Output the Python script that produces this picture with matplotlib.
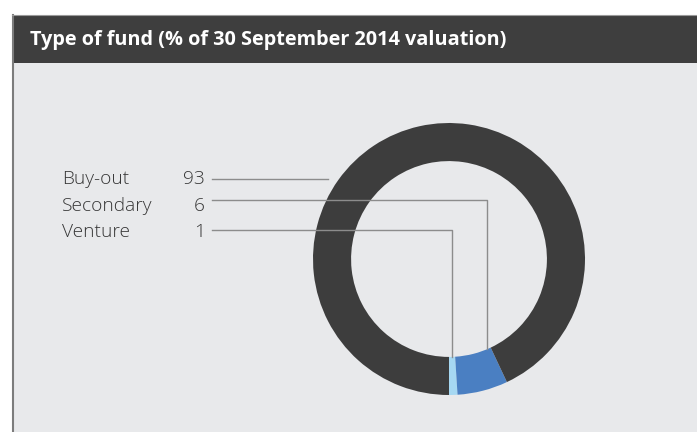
import numpy as np
import matplotlib
matplotlib.use("Agg")
import matplotlib.pyplot as plt
from matplotlib.patches import Rectangle

# --------------------------------------------------------------------------------
# DATA

title = "Type of fund (% of 30 September 2014 valuation)"
funds = ["Buy-out", "Secondary", "Venture"]
shares = [93, 6, 1]
colours = ["#3d3d3d", "#4a7fc2", "#a6d8f2"]

# --------------------------------------------------------------------------------
# LAYOUT (pixels)

W, H = 697, 432
cx, cy, R = 449, 259, 136     # donut centre and outer radius
ring = 0.28                   # ring width as fraction of radius
label_x, value_x, line_x0 = 62, 205, 212
row_y = [179, 206, 232]       # text centres
line_dy = [0, -6, -2]         # leader offset from text centre
anchor_frac = [None, 0.88, 0.5]  # where on the wedge the leader lands

plt.rcParams['font.family'] = ['Open Sans', 'DejaVu Sans']

fig = plt.figure(figsize=(W / 100, H / 100), dpi=100, facecolor="white")

bg = fig.add_axes([0, 0, 1, 1])
bg.set_xlim(0, W)
bg.set_ylim(H, 0)
bg.axis("off")
bg.add_patch(Rectangle((12, 63), W - 12, H - 63, color="#e8e9eb", lw=0))
bg.add_patch(Rectangle((12, 15), W - 12, 48, color="#3e3e3e", lw=0))
bg.plot([12.5, 12.5], [15, H], color="#7c7c7c", lw=1.5)
bg.plot([12, W], [14.8, 14.8], color="#9a9a9a", lw=0.8)
bg.text(30, 40, title, color="white", fontsize=14.3, fontweight="bold", va="center", ha="left")

# donut
pie_ax = fig.add_axes([(cx - R) / W, (H - cy - R) / H, 2 * R / W, 2 * R / H])
wedges, _ = pie_ax.pie(shares[::-1], colors=colours[::-1], startangle=-90, counterclock=True,
                       radius=1, wedgeprops=dict(width=ring, linewidth=0))
pie_ax.set_xlim(-1, 1)
pie_ax.set_ylim(-1, 1)
pie_ax.set_aspect("equal")
pie_ax.axis("off")
wedges = wedges[::-1]  # same order as funds

# labels and leader lines on top
ov = fig.add_axes([0, 0, 1, 1])
ov.set_xlim(0, W)
ov.set_ylim(H, 0)
ov.axis("off")
ov.patch.set_alpha(0)

r_in = R * (1 - ring)
for i, (name, val) in enumerate(zip(funds, shares)):
    y = row_y[i]
    ov.text(label_x, y, name, fontsize=13.8, fontweight="light", color="#363636", va="center", ha="left")
    ov.text(value_x, y, str(val), fontsize=13.8, fontweight="light", color="#363636", va="center", ha="right")
    ly = y + line_dy[i]
    w = wedges[i]
    if anchor_frac[i] is None:
        # horizontal line stopping short of the ring
        dy = cy - ly
        x_edge = cx - np.sqrt(R ** 2 - dy ** 2)
        ov.plot([line_x0, x_edge - 11], [ly, ly], color="#8c8c8c", lw=1.0)
    else:
        t = np.radians(w.theta1 + anchor_frac[i] * (w.theta2 - w.theta1))
        ax_x = cx + r_in * np.cos(t)
        ax_y = cy - r_in * np.sin(t)
        ov.plot([line_x0, ax_x, ax_x], [ly, ly, ax_y], color="#8c8c8c", lw=1.0)

fig.savefig("out.png", dpi=100, facecolor="white")
